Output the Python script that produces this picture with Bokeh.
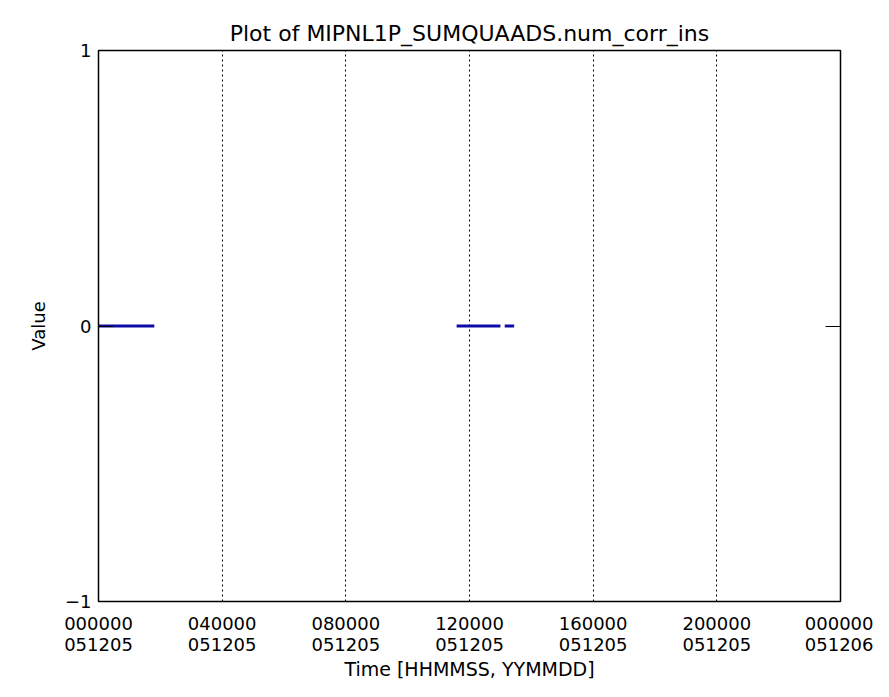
import math
from bokeh.plotting import figure
from bokeh.models import FixedTicker, LinearAxis, Range1d
from bokeh.embed import file_html
from bokeh.resources import INLINE

# ---- data (time in seconds since 051205 000000) ----
seg_times = [0, 6500, math.nan, 41700, 46800, math.nan, 47300, 48400]
seg_values = [0, 0, math.nan, 0, 0, math.nan, 0, 0]

x_tick_positions = [0, 14400, 28800, 43200, 57600, 72000, 86400]
x_tick_labels = ["000000\n051205", "040000\n051205", "080000\n051205",
                 "120000\n051205", "160000\n051205", "200000\n051205",
                 "000000\n051206"]
y_tick_positions = [-1, 0, 1]
y_tick_labels = ["\u22121", "0", "1"]

title_text = "Plot of MIPNL1P_SUMQUAADS.num_corr_ins"
x_label = "Time [HHMMSS, YYMMDD]"
y_label = "Value"

FONT = "DejaVu Sans"

p = figure(frame_width=742, frame_height=551, output_backend="svg", toolbar_location=None,
           x_range=Range1d(0, 86400), y_range=Range1d(-1, 1),
           min_border_left=98, min_border_right=33, min_border_top=50,
           min_border_bottom=80)

p.title.text = title_text
p.title.align = "center"
p.title.text_font = FONT
p.title.text_font_size = "22px"
p.title.text_font_style = "normal"
p.title.text_color = "black"
p.title.standoff = 10

p.outline_line_color = "black"
p.outline_line_width = 1.5
p.outline_line_alpha = 1.0

p.line(seg_times, seg_values, line_color="#0c0ca6", line_width=3)

# x axis
xa = p.xaxis[0]
xa.ticker = FixedTicker(ticks=x_tick_positions)
xa.major_label_overrides = {t: l for t, l in zip(x_tick_positions, x_tick_labels)}
xa.major_tick_in = 0
xa.major_tick_out = 0
xa.minor_tick_in = 0
xa.minor_tick_out = 0
xa.axis_line_color = "black"
xa.major_label_text_font = FONT
xa.major_label_text_font_size = "18px"
xa.major_label_text_line_height = 1.0
xa.major_label_text_color = "black"
xa.major_label_standoff = 11
xa.axis_label = x_label
xa.axis_label_text_font = FONT
xa.axis_label_text_font_size = "19px"
xa.axis_label_text_font_style = "normal"
xa.axis_label_text_color = "black"
xa.axis_label_standoff = 0

# y axis
ya = p.yaxis[0]
ya.ticker = FixedTicker(ticks=y_tick_positions)
ya.major_label_overrides = {t: l for t, l in zip(y_tick_positions, y_tick_labels)}
ya.major_tick_in = 15
ya.major_tick_out = 0
ya.minor_tick_in = 0
ya.minor_tick_out = 0
ya.major_tick_line_color = "black"
ya.axis_line_color = "black"
ya.major_label_text_font = FONT
ya.major_label_text_font_size = "18px"
ya.major_label_text_color = "black"
ya.major_label_standoff = 7
ya.axis_label = y_label
ya.axis_label_text_font = FONT
ya.axis_label_text_font_size = "18px"
ya.axis_label_text_font_style = "normal"
ya.axis_label_text_color = "black"
ya.axis_label_standoff = 13

# right axis (ticks only)
ra = LinearAxis(ticker=FixedTicker(ticks=y_tick_positions))
ra.major_tick_in = 15
ra.major_tick_out = 0
ra.minor_tick_in = 0
ra.minor_tick_out = 0
ra.major_tick_line_color = "black"
ra.axis_line_color = "black"
ra.major_label_text_font_size = "0px"
ra.major_label_text_alpha = 0
ra.major_label_standoff = 0
p.add_layout(ra, "right")

# grid
p.xgrid.ticker = FixedTicker(ticks=x_tick_positions)
p.xgrid.grid_line_color = "black"
p.xgrid.grid_line_dash = "2 3"
p.xgrid.grid_line_width = 1
p.xgrid.grid_line_alpha = 1.0
p.ygrid.grid_line_color = None

p.background_fill_color = "white"
p.border_fill_color = "white"

open("out.html", "w").write(file_html(p, INLINE))
